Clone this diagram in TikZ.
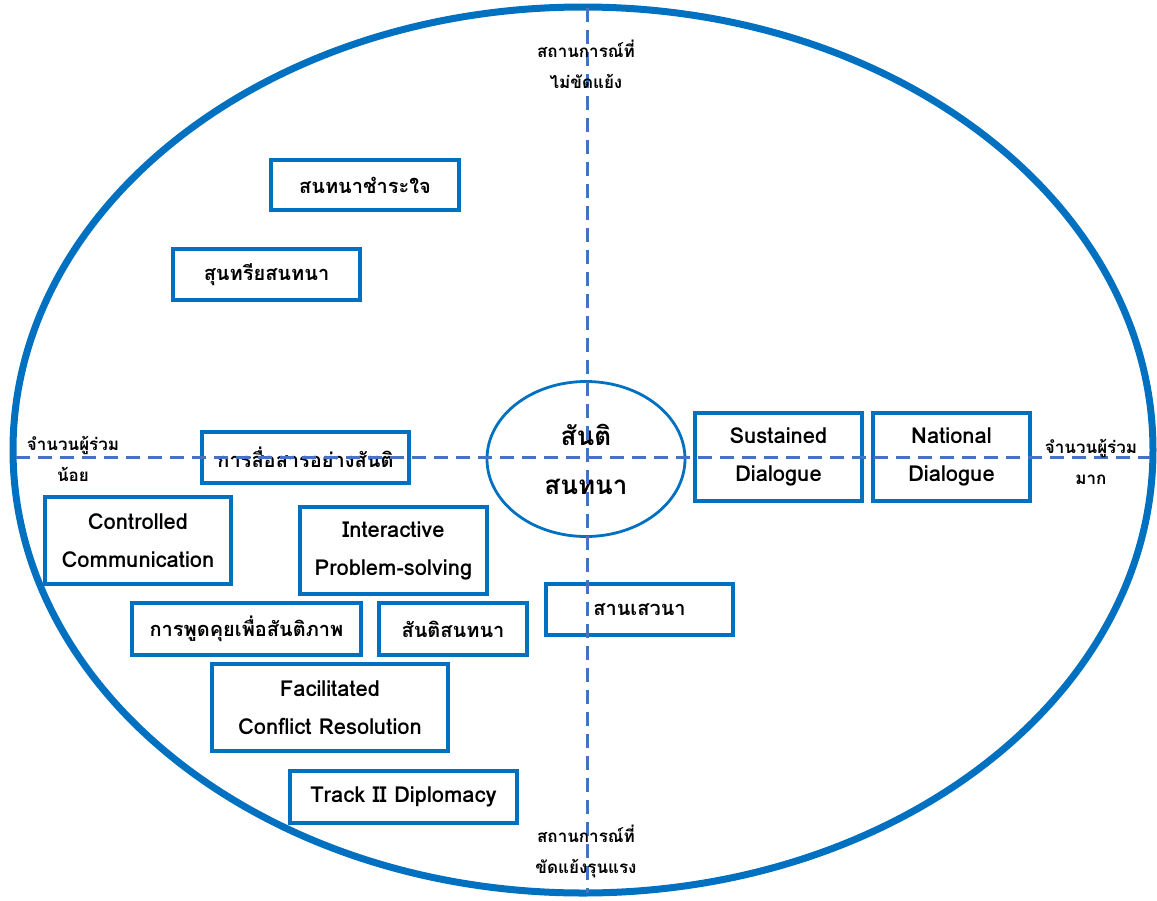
\documentclass[tikz,border=0pt]{standalone}
\usepackage{fontspec}
\setmainfont[Script=Thai]{Loma}
\usetikzlibrary{shapes.geometric}
\definecolor{rimblue}{RGB}{0,112,192}
\definecolor{axisblue}{RGB}{68,114,196}
\tikzset{
  bx/.style={draw=rimblue, line width=3.5pt, rectangle, inner sep=0pt, align=center,
             font=\fontsize{20}{38}\selectfont\bfseries},
  lbx/.style={bx, font=\fontsize{22}{38}\selectfont\bfseries},
  axis/.style={draw=axisblue, line width=3pt, dash pattern=on 14pt off 8pt},
  lbl/.style={inner sep=0pt, align=center, font=\fontsize{17}{31}\selectfont\bfseries},
}
\begin{document}
\begin{tikzpicture}[x=1pt, y=-1pt]
\useasboundingbox (0,0) rectangle (1157,900);

% outer frame
\node[draw=rimblue, line width=7pt, ellipse, minimum width=1140pt, minimum height=886pt, inner sep=0pt] (rim) at (583,450) {};

% centre
\node[draw=rimblue, line width=2.8pt, ellipse, minimum width=198pt, minimum height=155pt, inner sep=0pt,
      align=center, font=\fontsize{26}{49}\selectfont\bfseries] (core) at (586,459) {สันติ\\สนทนา};

% boxes
\node[bx, minimum width=188pt, minimum height=50pt] (b1) at (365,185) {สนทนาชำระใจ};
\node[bx, minimum width=187pt, minimum height=51pt] (b2) at (266.5,274.5) {สุนทรียสนทนา};
\node[bx, minimum width=207pt, minimum height=51pt] (b3) at (305.5,457.5) {การสื่อสารอย่างสันติ};
\node[lbx, minimum width=167pt, minimum height=88pt] (b4) at (778.5,457) {Sustained\\Dialogue};
\node[lbx, minimum width=157pt, minimum height=88pt] (b5) at (951.5,457) {National\\Dialogue};
\node[lbx, minimum width=186pt, minimum height=87pt] (b6) at (138,540.5) {Controlled\\Communication};
\node[lbx, minimum width=187pt, minimum height=87pt] (b7) at (393.5,550.5) {Interactive\\Problem-solving};
\node[bx, minimum width=187pt, minimum height=51pt] (b8) at (639.5,609.5) {สานเสวนา};
\node[bx, minimum width=229pt, minimum height=52pt] (b9) at (246.5,629) {การพูดคุยเพื่อสันติภาพ};
\node[bx, minimum width=148pt, minimum height=52pt] (b10) at (453,629) {สันติสนทนา};
\node[lbx, minimum width=236pt, minimum height=87pt] (b11) at (330,707.5) {Facilitated\\Conflict Resolution};
\node[lbx, minimum width=227pt, minimum height=52pt] (b12) at (403.5,797) {Track II Diplomacy};

% axes
\coordinate (top) at (587,8);
\coordinate (bot) at (587,893);
\coordinate (lft) at (16,457);
\coordinate (rgt) at (1150,457);
\draw[axis] (top) -- (bot);
\draw[axis] (lft) -- (rgt);

% axis labels
\node[lbl] (tl) at (586,64) {สถานการณ์ที่\\ไม่ขัดแย้ง};
\node[lbl] (bl) at (586,851) {สถานการณ์ที่\\ขัดแย้งรุนแรง};
\node[lbl] (ll) at (73,459) {จำนวนผู้ร่วม\\น้อย};
\node[lbl] (rl) at (1091,462) {จำนวนผู้ร่วม\\มาก};
\end{tikzpicture}
\end{document}
